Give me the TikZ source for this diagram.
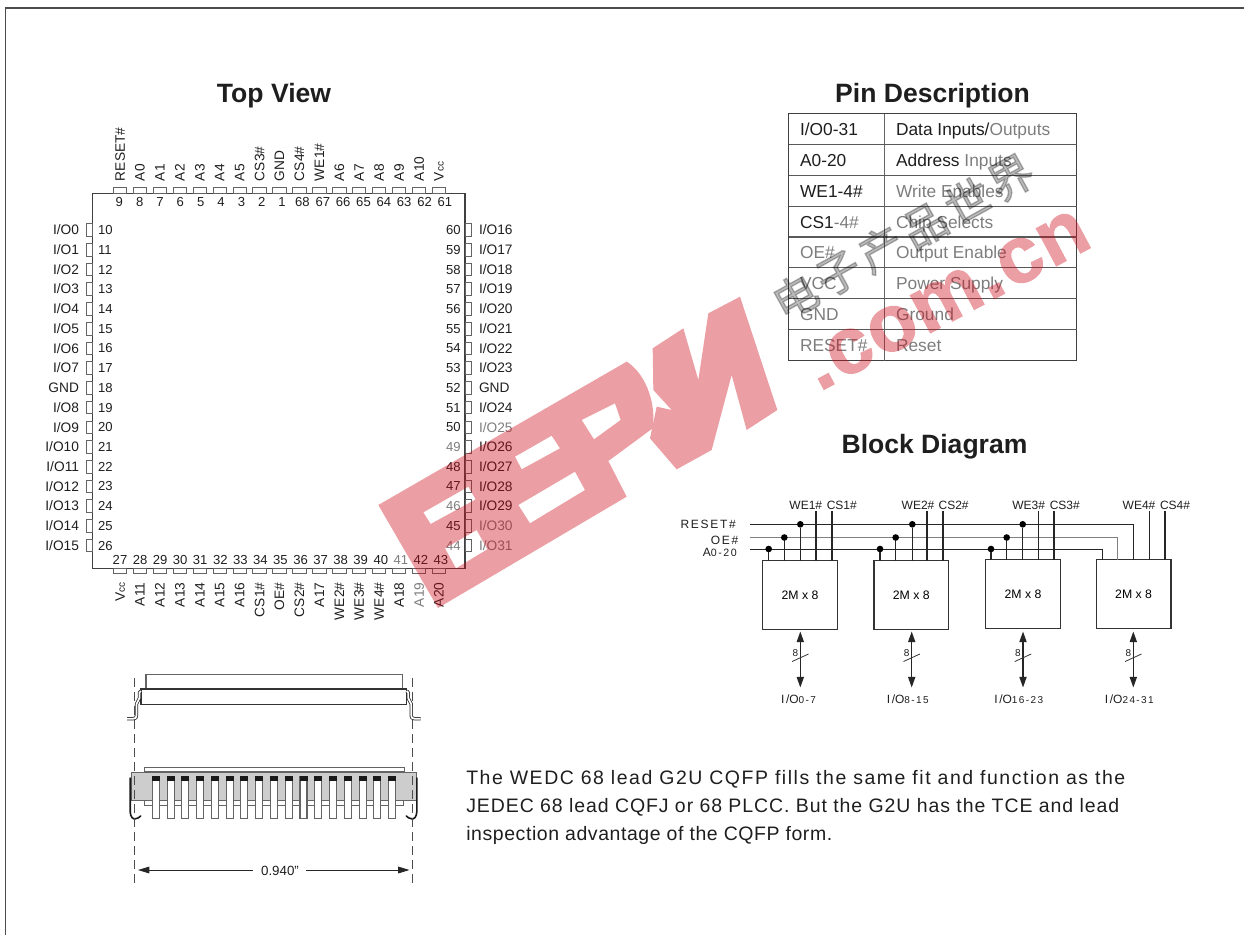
\documentclass[tikz,border=0pt]{standalone}
\usepackage{fontspec}
\setmainfont{Liberation Sans}
\newfontfamily\cjk{Noto Sans CJK SC}
\usetikzlibrary{arrows.meta,calc}
\definecolor{wmred}{RGB}{204,12,25}
\definecolor{ink}{RGB}{30,30,30}
\definecolor{gink}{RGB}{125,125,125}
\definecolor{lg}{RGB}{100,100,100}
\definecolor{bodygrey}{RGB}{205,205,205}
\newcommand{\vccl}{V{\fontsize{7.5}{7.5}\selectfont cc}}
\newcommand{\gy}[1]{{\color{gink}#1}}
\tikzset{
  pintxt/.style={font=\fontsize{10.3}{10.3}\selectfont,text=ink,inner sep=0pt,outer sep=0pt,text height=7.2pt,text depth=0pt},
  pinnum/.style={font=\fontsize{9.8}{9.8}\selectfont,text=ink,inner sep=0pt,outer sep=0pt,text height=6.9pt,text depth=0pt},
  hbox/.style={draw=lg,line width=.55pt,fill=white,minimum width=10pt,minimum height=4.3pt,inner sep=0pt,outer sep=0pt},
  vbox/.style={draw=lg,line width=.55pt,fill=white,minimum width=4.5pt,minimum height=9.5pt,inner sep=0pt,outer sep=0pt},
  chipbox/.style={draw=black!75,line width=.8pt,minimum width=279.4pt,minimum height=281.25pt,inner sep=0pt,outer sep=0pt},
  title/.style={font=\fontsize{19.9}{19.9}\selectfont\bfseries,text=ink,inner sep=0pt,text height=14.3pt,text depth=0pt},
  celltxt/.style={font=\fontsize{13}{13}\selectfont,text=ink,inner sep=0pt,anchor=west,text height=9.3pt,text depth=0pt},
  tline/.style={draw=black!75,line width=.8pt},
  block/.style={draw=black!80,line width=.85pt,fill=white,minimum width=56pt,minimum height=51.5pt,inner sep=0pt,outer sep=0pt,font=\fontsize{9.2}{9.2}\selectfont},
  bus/.style={draw=black!85,line width=.95pt},
  joint/.style={circle,fill=black,minimum size=5pt,inner sep=0pt,outer sep=0pt},
  sigl/.style={font=\fontsize{9}{9}\selectfont\addfontfeature{LetterSpace=14},text=ink,inner sep=0pt,text height=6.5pt,text depth=0pt},
  wecs/.style={font=\fontsize{9}{9}\selectfont,text=ink,inner sep=0pt,text height=6.5pt,text depth=0pt},
  dataarrow/.style={draw=black!85,line width=1pt,{Triangle[length=8pt,width=5.4pt]}-{Triangle[length=8pt,width=5.4pt]}},
  para/.style={text=ink,inner sep=0pt,anchor=base west},
  outl/.style={draw=lg,line width=.8pt},
  cl/.style={draw=black!70,line width=.6pt,dash pattern=on 6.5pt off 4pt},
}
\begin{document}
\begin{tikzpicture}[x=0.75pt,y=-0.75pt]
\useasboundingbox (0,0) rectangle (1244,935);
% frame
\coordinate (fa) at (5.5,935); \coordinate (fb) at (5.5,8); \coordinate (fc) at (1244,8);
\draw[draw=black!70,line width=.9pt] (fa) -- (fb) -- (fc);
% titles
\node[title] (t1) at (274,93) {Top View};
\node[title] (t2) at (932.5,93) {Pin Description};
\node[title] (t3) at (934.5,444) {Block Diagram};
% chip
\node[chipbox] (chip) at (278.75,380.8) {};
% top pins
\foreach \lab/\num [count=\i from 0] in {RESET\#/9,A0/8,A1/7,A2/6,A3/5,A4/4,A5/3,CS3\#/2,GND/1,CS4\#/68,WE1\#/67,A6/66,A7/65,A8/64,A9/63,A10/62,\vccl/61}{
  \pgfmathsetmacro{\bx}{120+19.93*\i}
  \pgfmathsetmacro{\nx}{119.3+20.35*\i}
  \node[hbox] (tp\i) at (\bx,190.5) {};
  \node[pintxt,rotate=90,anchor=west] (tl\i) at (\bx,181) {\lab};
  \node[pinnum] (tn\i) at (\nx,201.7) {\num};
}
% bottom pins
\foreach \lab/\num [count=\i from 0] in {\vccl/27,A11/28,A12/29,A13/30,A14/31,A15/32,A16/33,CS1\#/34,OE\#/35,CS2\#/36,A17/37,WE2\#/38,WE3\#/39,WE4\#/40,A18/\gy{41},\gy{A19}/42,A20/43}{
  \pgfmathsetmacro{\bx}{120+19.93*\i}
  \pgfmathsetmacro{\nx}{120+20.06*\i}
  \node[hbox] (bp\i) at (\bx,570.8) {};
  \node[pintxt,rotate=90,anchor=east] (bl\i) at (\bx,582.7) {\lab};
  \node[pinnum] (bn\i) at (\nx,560) {\num};
}
% left pins
\foreach \lab/\num [count=\i from 0] in {I\slash O0/10,I\slash O1/11,I\slash O2/12,I\slash O3/13,I\slash O4/14,I\slash O5/15,I\slash O6/16,I\slash O7/17,GND/18,I\slash O8/19,I\slash O9/20,I\slash O10/21,I\slash O11/22,I\slash O12/23,I\slash O13/24,I\slash O14/25,I\slash O15/26}{
  \pgfmathsetmacro{\by}{230+19.72*\i}
  \node[vbox] (lp\i) at (89.6,\by) {};
  \node[pintxt,anchor=east] (ll\i) at (79,\by) {\lab};
  \node[pinnum,anchor=west] (ln\i) at (98,\by) {\num};
}
% right pins
\foreach \lab/\num [count=\i from 0] in {I\slash O16/60,I\slash O17/59,I\slash O18/58,I\slash O19/57,I\slash O20/56,I\slash O21/55,I\slash O22/54,I\slash O23/53,GND/52,I\slash O24/51,\gy{I\slash O25}/50,I\slash O26/\gy{49},I\slash O27/48,I\slash O28/47,I\slash O29/\gy{46},\gy{I\slash O30}/45,\gy{I\slash O31}/\gy{44}}{
  \pgfmathsetmacro{\by}{230+19.72*\i}
  \node[vbox] (rp\i) at (468,\by) {};
  \node[pinnum,anchor=east] (rn\i) at (460.6,\by) {\num};
  \node[pintxt,anchor=west] (rl\i) at (479,\by) {\lab};
}
% pin table
\coordinate (tnw) at (788.5,113.5); \coordinate (tse) at (1076.5,360.5);
\draw[tline] (tnw) rectangle (tse);
\coordinate (tm1) at (884.5,113.5); \coordinate (tm2) at (884.5,360.5);
\draw[tline,draw=black!60] (tm1) -- (tm2);
\foreach \yy [count=\k] in {144.4,175.3,206.2,237,267.9,298.8,329.6}{
  \coordinate (rowa\k) at (788.5,\yy); \coordinate (rowb\k) at (1076.5,\yy);
  \draw[tline,draw=black!65] (rowa\k) -- (rowb\k);
}
\foreach \a/\b [count=\k from 0] in {I\slash O0-31/{Data Inputs\slash \gy{Outputs}},A0-20/{Address \gy{Inputs}},WE1-4\#/{\gy{Write Enables}},{CS1\gy{-4\#}}/{\gy{Chip Selects}},{\gy{OE\#}}/{\gy{Output Enable}},{\gy{VCC}}/{\gy{Power Supply}},{\gy{GND}}/{\gy{Ground}},{\gy{RESET\#}}/{\gy{Reset}}}{
  \pgfmathsetmacro{\yy}{129.3+30.87*\k}
  \node[celltxt] (ca\k) at (799.8,\yy) {\a};
  \node[celltxt] (cb\k) at (895.8,\yy) {\b};
}
% block diagram
\foreach \n/\lx/\ty in {1/762.7/560.8,2/874/560.8,3/985.7/559.6,4/1096.3/559.6}{
  \node[block] (m\n) at ($(\lx,\ty)+(37.3,34.3)$) {2M x 8};
}
\node[sigl,anchor=east] (sr) at (736,524.3) {RESET\#};
\node[sigl,anchor=east] (so) at (738.5,540) {OE\#};
\node[sigl,anchor=east] (sa) at (737,552.5) {A{\fontsize{8}{8}\selectfont 0-20}};
\coordinate (rs) at (750,524.3); \coordinate (re) at (1133.7,524.3);
\coordinate (os) at (750,537.7); \coordinate (oe) at (1117.7,537.7);
\coordinate (as) at (750,549.3); \coordinate (ae) at (1102.3,549.3);
\draw[bus] (rs) -- (re) -- (re |- m4.north);
\draw[bus,draw=black!50,line width=1.15pt] (os) -- (oe) -- (oe |- m4.north);
\draw[bus] (as) -- (ae) -- (ae |- m4.north);
\foreach \n/\xa/\xb/\xc in {1/768.7/784.3/800.3,2/880/895.7/912.3,3/991/1006.7/1022.7}{
  \node[joint] (ja\n) at (\xa,549) {};
  \node[joint] (jo\n) at (\xb,537.5) {};
  \node[joint] (jr\n) at (\xc,524.3) {};
  \draw[bus] (ja\n) -- (ja\n |- m\n.north);
  \draw[bus] (jo\n) -- (jo\n |- m\n.north);
  \draw[bus] (jr\n) -- (jr\n |- m\n.north);
}
\foreach \n/\xd/\xe in {1/816/832,2/927/943,3/1038.3/1054,4/1149.3/1165}{
  \coordinate (we\n) at (\xd,511); \coordinate (cs\n) at (\xe,511);
  \draw[bus] (we\n) -- (we\n |- m\n.north);
  \draw[bus] (cs\n) -- (cs\n |- m\n.north);
}
\foreach \n/\xa/\xb in {1/805.8/841.8,2/918/953.6,3/1028.7/1064.8,4/1139/1175}{
  \node[wecs] (lw\n) at (\xa,505) {WE\n\#};
  \node[wecs] (lc\n) at (\xb,505) {CS\n\#};
}
\foreach \n/\x/\lx/\txt in {1/800.3/798.5/0-7,2/911.7/907.7/8-15,3/1023/1018.7/16-23,4/1133.3/1129.3/24-31}{
  \coordinate (ua\n) at (\x,631.5); \coordinate (ub\n) at (\x,687.5);
  \draw[dataarrow] (ua\n) -- (ub\n);
  \coordinate (sl\n) at (\x-8.2,661.5); \coordinate (sm\n) at (\x+8.2,654);
  \draw[draw=black!80,line width=.6pt] (sl\n) -- (sm\n);
  \node[font=\fontsize{7.5}{7.5}\selectfont,text=ink,inner sep=0pt] (ei\n) at (\x-5,653.5) {8};
  \node[sigl] (io\n) at (\lx,699.3) {I\slash O{\fontsize{7.5}{7.5}\selectfont \txt}};
}
% paragraph
\node[para,font=\fontsize{14.6}{14.6}\selectfont\addfontfeature{LetterSpace=7.9}] (p1) at (466,784.5) {The WEDC 68 lead G2U CQFP fills the same fit and function as the};
\node[para,font=\fontsize{14.6}{14.6}\selectfont\addfontfeature{LetterSpace=4.8}] (p2) at (466,812.5) {JEDEC 68 lead CQFJ or 68 PLCC. But the G2U has the TCE and lead};
\node[para,font=\fontsize{14.6}{14.6}\selectfont\addfontfeature{LetterSpace=3}] (p3) at (466,840) {inspection advantage of the CQFP form.};
% side view, top
\coordinate (cl1a) at (134,678); \coordinate (cl1b) at (134,883);
\coordinate (cl2a) at (412.7,678); \coordinate (cl2b) at (412.7,883);
\draw[outl] (146,674.3) rectangle (402.7,689);
\draw[outl,draw=black!80] (141,689) rectangle (406.7,704.3);
\foreach \sx/\m in {0/1,547.7/-1}{
  \begin{scope}[shift={(\sx,0)},xscale=\m]
    \draw[draw=black!85,line width=.6pt,double=white,double distance=1.3pt,line join=round]
      (141,691) -- (139.5,692.5) -- (139.5,698) -- (136.5,704) -- (136.5,714) .. controls (136.5,718) and (135.5,718.8) .. (133,718.8) -- (127,718.8);
  \end{scope}
}
% side view, bottom
\draw[outl] (144.3,767.3) rectangle (404.3,772);
\draw[draw=lg,line width=.6pt,fill=bodygrey] (131.7,772) rectangle (416,800.5);
\draw[outl,fill=white] (144.3,800.5) rectangle (403.3,805.3);
\foreach \i in {0,...,16}{
  \pgfmathsetmacro{\lx}{152.3+14.77*\i}
  \draw[draw=lg,line width=.85pt,fill=white] (\lx,776.7) rectangle (\lx+7,818.7);
  \fill[black!90] (\lx-.5,776.2) rectangle (\lx+7.5,780.7);
}
\draw[black!90,line width=1.2pt,line cap=round] (130.2,778) -- (130.2,812) .. controls (130.5,817) and (133,819.5) .. (135.5,818.8) .. controls (137.5,818.3) and (139.5,817.5) .. (140.7,816);
\draw[black!90,line width=1.2pt,line cap=round] (416.8,778) -- (416.8,812) .. controls (416.5,817) and (414,819.5) .. (411.5,818.8) .. controls (409.5,818.3) and (407.5,817.5) .. (406.3,816);
\draw[cl] (cl1a) -- (cl1b);
\draw[cl] (cl2a) -- (cl2b);
% dimension
\node[font=\fontsize{10}{10}\selectfont,text=ink,inner sep=0pt] (dim) at (280,871) {0.940"};
\coordinate (dl) at (138,870); \coordinate (dr) at (409.5,870);
\coordinate (dm1) at (252.7,870); \coordinate (dm2) at (306,870);
\draw[black!85,line width=.7pt,{Triangle[length=8.5pt,width=5pt]}-] (dl) -- (dm1);
\draw[black!85,line width=.7pt,-{Triangle[length=8.5pt,width=5pt]}] (dm2) -- (dr);
% watermark
\node[font=\cjk\fontsize{33}{33}\selectfont\addfontfeature{LetterSpace=12,FakeBold=3},text=black,opacity=.27,rotate=29,inner sep=0pt] (wmc) at (903,237) {电子产品世界};
\begin{scope}[opacity=.4,transparency group]
  \node[font=\fontsize{60}{60}\selectfont\bfseries\addfontfeature{LetterSpace=2,FakeBold=1.5},text=wmred,rotate=28,inner sep=0pt] (wmd) at (947,300) {.com.cn};
  \begin{scope}[shift={(370,260)},scale=0.33333]
    \fill[wmred,even odd rule]
      (25,735) -- (770,305) .. controls (820,335) and (860,420) .. (848,505) -- (715,603) -- (770,710) -- (204,1044) -- cycle
      (160,757) -- (295,680) -- (317,718) -- (182,792) -- cycle
      (225,865) -- (320,810) -- (352,868) -- (258,925) -- cycle
      (435,590) -- (545,527) -- (570,565) -- (455,628) -- cycle
      (445,735) -- (615,635) -- (645,690) -- (480,790) -- cycle
      (635,480) -- (735,430) -- (752,480) -- (672,538) -- cycle;
    \fill[wmred] (848,265) -- (940,205) -- (985,360) -- (1015,160) -- (1110,110) -- (1222,450) -- (1130,510) -- (1085,345) -- (1025,570) -- (920,628) -- (840,535) -- (860,440) -- (905,450) -- (850,390) -- cycle;
  \end{scope}
\end{scope}
\end{tikzpicture}
\end{document}
